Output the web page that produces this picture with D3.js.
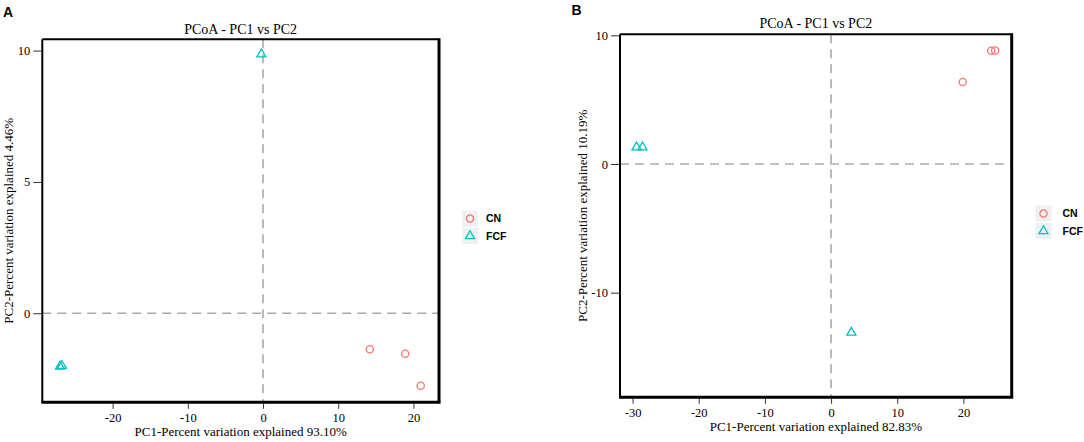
<!DOCTYPE html>
<html>
<head>
<meta charset="utf-8">
<script src="https://cdn.jsdelivr.net/npm/d3@7"></script>
<style>
  body { margin: 0; background: #fff; }
</style>
</head>
<body>
<svg id="chart" width="1084" height="442"></svg>
<script>
// groups and legend
const groups = ["CN", "FCF"];
const groupColors = ["#f8766d", "#00bfc4"];

// panel A values
const aCnPC1 = [14.2, 18.9, 20.97];
const aCnPC2 = [-1.37, -1.54, -2.76];
const aFcfPC1 = [-27.0, -26.75, -0.22];
const aFcfPC2 = [-2.03, -2.0, 9.86];
const aXTicks = [-20, -10, 0, 10, 20];
const aYTicks = [0, 5, 10];
const aXDomain = [-29.35, 23.4];
const aYDomain = [-3.39, 10.43];
const aXTitle = "PC1-Percent variation explained 93.10%";
const aYTitle = "PC2-Percent variation explained 4.46%";

// panel B values
const bCnPC1 = [19.9, 24.2, 24.8];
const bCnPC2 = [6.37, 8.8, 8.82];
const bFcfPC1 = [-29.4, -28.5, 3.07];
const bFcfPC2 = [1.3, 1.3, -13.1];
const bXTicks = [-30, -20, -10, 0, 10, 20];
const bYTicks = [-10, 0, 10];
const bXDomain = [-31.9, 27.3];
const bYDomain = [-18.13, 10.08];
const bXTitle = "PC1-Percent variation explained 82.83%";
const bYTitle = "PC2-Percent variation explained 10.19%";

const plotTitle = "PCoA - PC1 vs PC2";

const serif = "'Liberation Serif', 'Times New Roman', serif";
const sans = "'Liberation Sans', Arial, sans-serif";

const svg = d3.select("#chart");

function draw_panel(opt){
    const g = svg.append("g");
    const x = d3.scaleLinear().domain(opt.xDomain).range([opt.left, opt.right]);
    const y = d3.scaleLinear().domain(opt.yDomain).range([opt.bottom, opt.top]);

    // panel letter
    g.append("text")
        .style("font-family", sans)
        .style("font-size", "14px")
        .style("font-weight", "bold")
        .attr("x", opt.tagX)
        .attr("y", opt.tagY)
        .text(opt.tag);

    // title
    g.append("text")
        .style("font-family", serif)
        .style("font-size", "14px")
        .attr("text-anchor", "middle")
        .attr("x", (opt.left + opt.right) / 2)
        .attr("y", opt.titleY)
        .text(plotTitle);

    // zero reference lines
    g.append("line")
        .attr("x1", x(0)).attr("x2", x(0))
        .attr("y1", opt.top).attr("y2", opt.bottom)
        .attr("stroke", "#aaaaaa")
        .attr("stroke-width", 1.6)
        .attr("stroke-dasharray", "9,6");
    g.append("line")
        .attr("x1", opt.left).attr("x2", opt.right)
        .attr("y1", y(0)).attr("y2", y(0))
        .attr("stroke", "#aaaaaa")
        .attr("stroke-width", 1.6)
        .attr("stroke-dasharray", "9,6");

    // axes
    const xAxis = d3.axisBottom(x).tickValues(opt.xTicks).tickSize(5).tickPadding(4)
        .tickFormat(d => String(d));
    const gx = g.append("g").attr("transform", `translate(0,${opt.bottom + 1.5})`).call(xAxis);
    gx.select(".domain").remove();
    gx.selectAll(".tick line").attr("stroke", "#333").attr("stroke-width", 1);
    gx.selectAll(".tick text").style("font-family", serif).style("font-size", "12.5px").attr("fill", "#000");

    const yAxis = d3.axisLeft(y).tickValues(opt.yTicks).tickSize(8).tickPadding(3)
        .tickFormat(d => String(d));
    const gy = g.append("g").attr("transform", `translate(${opt.left - 1},0)`).call(yAxis);
    gy.select(".domain").remove();
    gy.selectAll(".tick line").attr("stroke", "#333").attr("stroke-width", 1);
    gy.selectAll(".tick text").style("font-family", serif).style("font-size", "12.5px").attr("fill", "#000");

    // frame: thin top/left, heavier bottom/right
    g.append("line").attr("x1", opt.left).attr("x2", opt.right).attr("y1", opt.top).attr("y2", opt.top)
        .attr("stroke", "#000").attr("stroke-width", 2);
    g.append("line").attr("x1", opt.left).attr("x2", opt.left).attr("y1", opt.top).attr("y2", opt.bottom)
        .attr("stroke", "#000").attr("stroke-width", 2);
    g.append("line").attr("x1", opt.left - 1).attr("x2", opt.right + 1.5).attr("y1", opt.bottom).attr("y2", opt.bottom)
        .attr("stroke", "#000").attr("stroke-width", 3);
    g.append("line").attr("x1", opt.right).attr("x2", opt.right).attr("y1", opt.top - 1).attr("y2", opt.bottom)
        .attr("stroke", "#000").attr("stroke-width", 3);

    // axis titles
    g.append("text")
        .style("font-family", serif)
        .style("font-size", "13px")
        .attr("text-anchor", "middle")
        .attr("x", (opt.left + opt.right) / 2)
        .attr("y", opt.bottom + 34)
        .text(opt.xTitle);
    g.append("text")
        .style("font-family", serif)
        .style("font-size", "13px")
        .attr("text-anchor", "middle")
        .attr("transform", `translate(${opt.yTitleX},${(opt.top + opt.bottom) / 2}) rotate(-90)`)
        .attr("dy", "0.35em")
        .text(opt.yTitle);

    // points
    const cn = opt.cnX.map((v, i) => ({x: v, y: opt.cnY[i]}));
    const fcf = opt.fcfX.map((v, i) => ({x: v, y: opt.fcfY[i]}));

    g.selectAll(".cn-point")
        .data(cn)
        .enter()
        .append("circle")
        .attr("class", "cn-point")
        .attr("cx", d => x(d.x))
        .attr("cy", d => y(d.y))
        .attr("r", 3.6)
        .attr("fill", "none")
        .attr("stroke", groupColors[0])
        .attr("stroke-width", 1.3);

    const tri = d3.symbol().type(d3.symbolTriangle).size(36);
    g.selectAll(".fcf-point")
        .data(fcf)
        .enter()
        .append("path")
        .attr("class", "fcf-point")
        .attr("d", tri)
        .attr("transform", d => `translate(${x(d.x)},${y(d.y)})`)
        .attr("fill", "none")
        .attr("stroke", groupColors[1])
        .attr("stroke-width", 1.3);

    // legend
    const leg = g.selectAll(".legend")
        .data(groups)
        .enter()
        .append("g")
        .attr("transform", (d, i) => `translate(${opt.legX},${opt.legY + i * 17.5})`);
    leg.append("rect")
        .attr("x", -8).attr("y", -8)
        .attr("width", 16).attr("height", 16)
        .attr("fill", "#f0f0f0");
    leg.filter((d, i) => i === 0).append("circle")
        .attr("r", 3.6)
        .attr("fill", "none")
        .attr("stroke", groupColors[0])
        .attr("stroke-width", 1.3);
    leg.filter((d, i) => i === 1).append("path")
        .attr("d", tri)
        .attr("fill", "none")
        .attr("stroke", groupColors[1])
        .attr("stroke-width", 1.3);
    leg.append("text")
        .style("font-family", sans)
        .style("font-size", "10.5px")
        .style("font-weight", "bold")
        .attr("x", opt.legTextDx)
        .attr("dy", "0.35em")
        .text(d => d);
}

draw_panel({
    tag: "A", tagX: 3, tagY: 17,
    left: 42.3, right: 439, top: 39.3, bottom: 402.3,
    titleY: 34,
    xDomain: aXDomain, yDomain: aYDomain,
    xTicks: aXTicks, yTicks: aYTicks,
    xTitle: aXTitle, yTitle: aYTitle, yTitleX: 8,
    cnX: aCnPC1, cnY: aCnPC2, fcfX: aFcfPC1, fcfY: aFcfPC2,
    legX: 470, legY: 218.5, legTextDx: 16
});

draw_panel({
    tag: "B", tagX: 571.5, tagY: 15,
    left: 620, right: 1011.7, top: 34.3, bottom: 397.3,
    titleY: 28,
    xDomain: bXDomain, yDomain: bYDomain,
    xTicks: bXTicks, yTicks: bYTicks,
    xTitle: bXTitle, yTitle: bYTitle, yTitleX: 582,
    cnX: bCnPC1, cnY: bCnPC2, fcfX: bFcfPC1, fcfY: bFcfPC2,
    legX: 1043.5, legY: 213.5, legTextDx: 19
});
</script>
</body>
</html>
